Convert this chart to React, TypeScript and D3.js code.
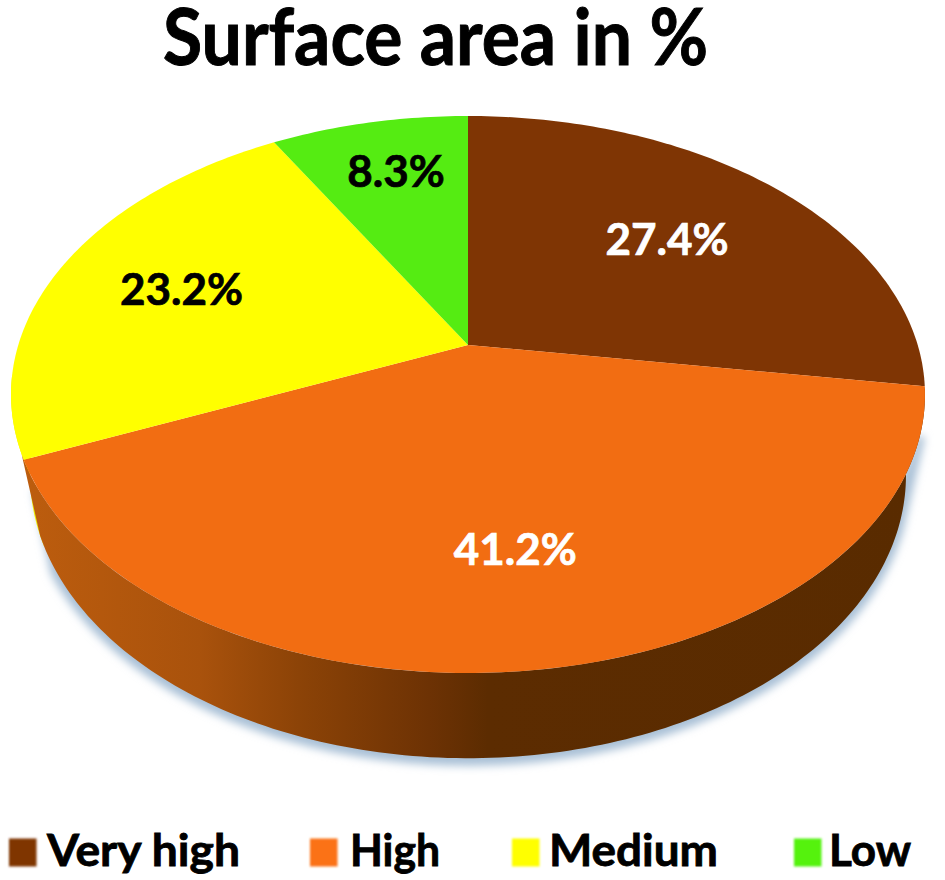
import React from "react";
import * as d3 from "d3";

const categories = ["Very high", "High", "Medium", "Low"];
const values = [27.4, 41.2, 23.2, 8.3];
const valueLabels = ["27.4%", "41.2%", "23.2%", "8.3%"];
const sliceColors = ["#7f3504", "#f26d12", "#ffff00", "#55ec12"];
const legendColors = ["#7f3504", "#fb7216", "#ffff00", "#55f210"];
const labelColors = ["#ffffff", "#ffffff", "#000000", "#000000"];

const W = 945;
const H = 880;
const FONT = "Lato, Carlito, 'Open Sans', sans-serif";

// perspective view of the pie's unit disc
const K = 0.1777;
const top = { cx: 468, cy: 345, a: 449.7, b: 269.7 };
const bottom = { cx: 468, cy: 425, a: 431, b: 274 };
type Plane = typeof top;

const project = (p: Plane, angle: number, r = 1): [number, number] => {
  const u = r * Math.sin(angle);
  const v = -r * Math.cos(angle);
  const w = 1 - K * v;
  return [p.cx + (p.a * u) / w, p.cy + (p.b * v) / w];
};

const samples = (a0: number, a1: number) => {
  const n = Math.max(2, Math.ceil(Math.abs(a1 - a0) * 60));
  return d3.range(n + 1).map((i) => a0 + ((a1 - a0) * i) / n);
};

const closed = d3.line().curve(d3.curveLinearClosed);

const slicePath = (a0: number, a1: number) =>
  closed([[top.cx, top.cy], ...samples(a0, a1).map((a) => project(top, a))]);

const wallPath = (a0: number, a1: number) =>
  closed([
    ...samples(a0, a1).map((a) => project(top, a)),
    ...samples(a1, a0).map((a) => project(bottom, a)),
  ]);

const pie = d3.pie<number>().sort(null).value((d) => d)
  .startAngle(0).endAngle((2 * Math.PI * d3.sum(values)) / 100);
const arcs = pie(values);

const labelRadius = [0.64, 0.675, 0.67, 0.75];
const labelNudge = [-4, 3, -11, 5];

const legendSwatchX = [9, 310, 512, 794];
const legendTextX = [47, 350, 549, 829];
const legendTextW = [193, 90, 169, 82];

export default function App() {
  const high = arcs[1];
  const med = arcs[2];
  return (
    <svg
      width={W}
      height={H}
      viewBox={`0 0 ${W} ${H}`}
      style={{ position: "absolute", left: 0, top: 0, background: "#fff" }}
      fontFamily={FONT}
    >
      <defs>
        <linearGradient id="wall" gradientUnits="userSpaceOnUse" x1={20} x2={920} y1={0} y2={0}>
          <stop offset="0" stopColor="#bd5d0e" />
          <stop offset="0.2" stopColor="#a9520c" />
          <stop offset="0.31" stopColor="#8c4307" />
          <stop offset="0.455" stopColor="#6d3204" />
          <stop offset="0.52" stopColor="#5c2c01" />
          <stop offset="1" stopColor="#592b00" />
        </linearGradient>
        <filter id="soft" x="-10%" y="-10%" width="120%" height="120%">
          <feGaussianBlur stdDeviation="4" />
        </filter>
        <filter id="edge" x="-20%" y="-20%" width="140%" height="140%">
          <feGaussianBlur stdDeviation="0.8" />
        </filter>
      </defs>

      <text x={435.5} y={65} textAnchor="middle" fontSize={79} fontWeight={700} fill="#000"
        stroke="#000" strokeWidth={1} textLength={545} lengthAdjust="spacingAndGlyphs">
        Surface area in %
      </text>

      {/* soft shadow below the disc */}
      <path
        d={wallPath(Math.PI * 0.6, Math.PI * 1.34) ?? ""}
        transform="translate(0,3)"
        fill="#a9c0d6"
        stroke="#a9c0d6"
        strokeWidth={9}
        filter="url(#soft)"
      />

      {/* side walls */}
      <path d={wallPath(med.startAngle - 0.02, med.startAngle + 0.3) ?? ""} fill="#f0f000" />
      <path d={wallPath(high.startAngle, high.endAngle + 0.02) ?? ""} fill="url(#wall)" />

      {/* top face */}
      {arcs.map((d, i) => (
        <path key={categories[i]} d={slicePath(d.startAngle, d.endAngle) ?? ""} fill={sliceColors[i]} />
      ))}

      {arcs.map((d, i) => {
        const [x, y] = project(top, (d.startAngle + d.endAngle) / 2, labelRadius[i]);
        return (
          <text key={valueLabels[i]} x={x + labelNudge[i]} y={y + 15} textAnchor="middle" fontSize={44}
            fontWeight={700} fill={labelColors[i]} stroke={labelColors[i]} strokeWidth={0.7}>
            {valueLabels[i]}
          </text>
        );
      })}

      {categories.map((c, i) => (
        <g key={c}>
          <rect x={legendSwatchX[i]} y={838.5} width={27.5} height={28} fill={legendColors[i]} filter="url(#edge)" />
          <text x={legendTextX[i]} y={866} fontSize={44} fontWeight={700} fill="#000" stroke="#000"
            strokeWidth={0.8} textLength={legendTextW[i]} lengthAdjust="spacingAndGlyphs">
            {c}
          </text>
        </g>
      ))}
    </svg>
  );
}
